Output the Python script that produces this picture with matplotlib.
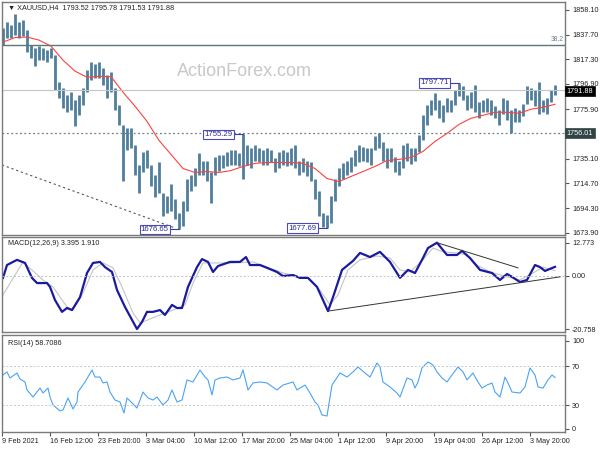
import numpy as np
import matplotlib
matplotlib.use("Agg")
from matplotlib import pyplot as plt

plt.rcParams['font.family'] = ['Liberation Sans', 'DejaVu Sans']

# H4 bars (high / low), one bar per index
bar_high = [1843.2, 1848.1, 1845.6, 1854.8, 1848.1, 1849.8, 1841.5, 1829.1, 1826.6, 1828.2,
            1826.6, 1824.9, 1826.6, 1820.8, 1798.4, 1793.4, 1787.6, 1790.1, 1783.4, 1787.6,
            1793.4, 1808.3, 1815.0, 1813.3, 1815.0, 1810.0, 1804.2, 1806.7, 1793.4, 1779.3,
            1762.7, 1760.2, 1760.2, 1746.1, 1729.5, 1740.3, 1741.9, 1729.5, 1721.2, 1732.0,
            1707.1, 1704.6, 1714.5, 1702.1, 1690.5, 1700.5, 1718.7, 1721.2, 1727.0, 1739.4,
            1733.6, 1733.6, 1723.7, 1736.1, 1737.8, 1737.8, 1740.3, 1741.9, 1741.9, 1739.4,
            1755.29, 1746.1, 1743.6, 1746.1, 1743.6, 1741.9, 1743.6, 1741.9, 1735.3, 1740.3,
            1741.9, 1740.3, 1743.6, 1746.1, 1733.6, 1735.3, 1733.6, 1732.0, 1718.7, 1708.7,
            1690.5, 1688.8, 1704.6, 1718.7, 1727.0, 1731.2, 1733.6, 1736.9, 1741.9, 1746.1,
            1744.4, 1743.6, 1743.6, 1754.0, 1756.5, 1748.6, 1743.6, 1743.6, 1736.9, 1733.6,
            1746.1, 1747.7, 1743.6, 1743.6, 1754.4, 1771.0, 1779.3, 1783.4, 1789.2, 1783.4,
            1779.3, 1785.1, 1783.4, 1791.7, 1797.71, 1795.1, 1787.6, 1790.1, 1795.9, 1781.8,
            1783.4, 1785.1, 1783.4, 1778.5, 1775.1, 1785.1, 1783.4, 1775.1, 1776.8, 1775.1,
            1780.1, 1795.1, 1793.4, 1791.7, 1798.4, 1783.4, 1785.1, 1791.7, 1795.9]
bar_low = [1829.1, 1834.9, 1834.9, 1837.4, 1834.9, 1836.5, 1823.2, 1818.3, 1811.6, 1816.6,
           1816.6, 1815.0, 1818.3, 1791.7, 1785.1, 1776.8, 1773.5, 1775.1, 1761.9, 1771.0,
           1779.3, 1790.1, 1800.0, 1801.7, 1801.7, 1795.9, 1785.1, 1790.1, 1775.1, 1762.7,
           1717.0, 1741.9, 1743.6, 1721.2, 1707.1, 1723.7, 1727.0, 1712.9, 1703.8, 1707.1,
           1688.0, 1690.5, 1692.2, 1685.5, 1676.65, 1679.7, 1692.2, 1708.7, 1712.9, 1721.2,
           1721.2, 1717.0, 1698.8, 1721.2, 1725.3, 1727.0, 1728.7, 1729.5, 1729.5, 1728.7,
           1718.7, 1729.5, 1727.0, 1733.6, 1732.0, 1729.5, 1729.5, 1732.0, 1723.7, 1727.0,
           1729.5, 1728.7, 1729.5, 1727.0, 1721.2, 1723.7, 1720.4, 1717.0, 1702.1, 1688.0,
           1678.9, 1677.69, 1682.2, 1700.5, 1712.9, 1718.7, 1721.2, 1723.7, 1728.7, 1732.0,
           1733.6, 1732.0, 1729.5, 1741.9, 1743.6, 1733.6, 1727.0, 1732.0, 1723.7, 1721.2,
           1727.0, 1733.6, 1730.4, 1733.6, 1740.3, 1750.2, 1762.7, 1771.0, 1775.1, 1768.5,
           1765.2, 1773.5, 1773.5, 1779.3, 1786.8, 1783.4, 1775.1, 1776.8, 1773.5, 1768.5,
           1773.5, 1773.5, 1771.0, 1768.5, 1762.7, 1771.8, 1766.8, 1756.0, 1765.2, 1765.2,
           1770.1, 1780.1, 1783.4, 1778.5, 1771.8, 1773.5, 1771.8, 1781.8, 1787.6]

# moving average, read every 3 bars
ma = [1831.5, 1835.3, 1835.7, 1833.2, 1828.2, 1816.6, 1807.5, 1802.5, 1803.3, 1802.9,
      1790.1, 1778.5, 1766.0, 1750.2, 1738.6, 1727.0, 1723.7, 1724.5, 1723.7, 1725.3,
      1728.7, 1731.2, 1732.0, 1732.0, 1732.0, 1731.2, 1727.0, 1718.7, 1716.2, 1720.4,
      1724.5, 1728.7, 1733.6, 1734.5, 1736.1, 1741.1, 1749.4, 1756.0, 1763.5, 1768.5,
      1771.0, 1773.5, 1773.5, 1772.6, 1776.0, 1777.6, 1780.1]

macd_t = [0, 1, 3.5, 5.5, 7.25, 8.5, 11, 11.75, 13, 14.75, 16, 17.25, 19.25, 21, 22.5, 24.25,
          25.5, 27.25, 28.5, 30.5, 32.25, 33.5, 34.75, 36, 37.5, 39.25, 40.5, 42.25, 43.5, 44.75,
          46.25, 48.5, 49.75, 51.25, 52.5, 53.75, 56.75, 59.25, 60.75, 61.75, 64.25, 66, 68.5, 70,
          72.5, 74.25, 76.25, 78.5, 80, 81.25, 82.5, 84.75, 87.5, 89.25, 91.75, 94.25, 96.75,
          99.25, 101.25, 103, 104.75, 106.25, 108.5, 111, 113.5, 114.75, 116.75, 119.25, 122.25,
          124.25, 126, 127.25, 129.25, 131, 133, 134.25, 135.5, 136.75, 138]
macd = [-0.9, 4.1, 6.1, 4.9, -0.9, -2.9, -2.9, -4.4, -9.5, -14.1, -12.6, -13.4, -8.4, 1.0, 4.9,
        5.3, 3.3, 1.4, -5.6, -12.2, -17.2, -20.758, -18.0, -14.1, -14.1, -13.4, -15.3, -11.4,
        -12.6, -12.6, -4.4, 3.3, 6.4, 5.3, 1.4, 3.7, 5.3, 5.3, 7.2, 4.1, 4.1, 3.0, 1.4, -0.2, 0.2,
        -0.9, -0.9, -4.4, -9.5, -13.8, -8.4, 2.2, 5.7, 8.8, 7.2, 9.2, 5.3, -0.9, 2.2, 1.0, 6.1,
        10.7, 12.773, 8.0, 8.0, 9.6, 6.8, 2.2, 1.0, -1.7, 0.6, -0.5, -2.5, -1.7, 4.1, 3.3, 1.8,
        2.6, 3.395]

sig_t = [0, 5, 10, 12.5, 16, 17.5, 20, 22.5, 25, 27.5, 29.75, 32.5, 34.25, 36.25, 39.25, 42.5,
         45.5, 47.5, 50, 52.5, 57.5, 62.5, 66, 70, 74.25, 76, 79.25, 81.75, 83.75, 86.25, 89.25,
         93.5, 96.75, 99.25, 101.75, 105, 107.5, 110, 113.5, 116, 118.5, 121.75, 126, 129.25,
         132.5, 135, 138]
signal = [-7.5, 5.3, -1.7, -4.4, -12.2, -13.4, -6.8, 2.2, 4.9, 3.0, -4.4, -14.5, -18.4, -17.2,
          -15.3, -13.4, -11.4, -2.9, 4.9, 4.9, 4.9, 5.3, 3.3, 1.0, -0.5, -0.5, -5.6, -11.4, -7.5,
          2.2, 6.1, 7.6, 6.8, 2.2, 1.4, 6.1, 10.7, 9.2, 8.8, 8.0, 4.1, 1.4, -0.5, -1.7, 1.0, 3.3,
          1.91]

rsi_t = [0, 1, 1.75, 3.5, 4.25, 5.5, 6, 7.5, 9.25, 10, 11.25, 11.75, 12.5, 14.25, 15, 16.25,
         17.5, 18.5, 18.75, 20.5, 22.25, 23, 24.25, 25, 26, 26.75, 28, 29.25, 30.25, 31, 32.25,
         33.5, 35, 36.25, 37.5, 38.5, 40, 41.25, 42.25, 43.5, 44.75, 46, 47.5, 49.25, 50.5,
         51.25, 52.25, 53, 54.25, 56, 57.5, 59.25, 60, 61.25, 62.5, 64.25, 66, 68.5, 70, 72.5,
         73.5, 74.25, 75.5, 76.75, 78, 78.75, 79.75, 81, 82.25, 84.25, 86, 87.5, 88.75, 90.5,
         91.75, 93.5, 94.25, 95, 96.75, 98.5, 99.25, 101, 102.25, 103, 103.75, 104.75, 106.25,
         107.5, 108.5, 109.75, 111, 112.25, 113.75, 115, 116, 117.5, 118.75, 119.75, 121,
         122.25, 123, 124.25, 125.5, 126.25, 127.25, 129.25, 130.5, 131.75, 133, 133.75, 135,
         136.25, 137.25, 138]
rsi = [61.3, 64.4, 58.2, 63.3, 57.2, 54.1, 45.9, 38.7, 47.9, 42.8, 47.9, 38.7, 30.5, 24.4, 25.4,
       37.7, 26.4, 33.6, 43.8, 54.1, 66.4, 59.2, 59.2, 53.1, 54.1, 43.8, 35.6, 33.6, 22.3, 37.7,
       32.6, 27.4, 43.8, 37.7, 35.6, 38.7, 30.5, 35.6, 45.9, 33.6, 35.6, 56.2, 54.1, 66.4, 59.2,
       56.2, 40.8, 56.2, 58.2, 59.2, 56.2, 58.2, 66.4, 45.9, 53.1, 54.1, 53.1, 45.9, 51.0, 54.1,
       45.9, 47.9, 51.0, 42.8, 33.6, 30.5, 20.3, 19.2, 51.0, 63.3, 59.2, 64.4, 69.5, 63.3, 59.2,
       73.6, 69.5, 54.1, 49.0, 42.8, 38.7, 58.2, 56.2, 47.9, 54.1, 68.5, 74.6, 71.5, 64.4, 58.2,
       54.1, 61.3, 69.5, 64.4, 56.2, 63.3, 54.1, 47.9, 51.0, 53.1, 43.8, 38.7, 59.2, 53.1, 43.8,
       42.8, 49.0, 68.5, 61.3, 49.0, 47.9, 56.2, 61.3, 58.7]

price_ticks = [1858.10, 1837.70, 1817.30, 1796.90, 1775.90, 1735.10, 1714.70, 1694.30, 1673.90]
date_ticks = [-0.25 + 12 * k for k in range(12)]
date_labels = ['9 Feb 2021', '16 Feb 12:00', '23 Feb 20:00', '3 Mar 04:00', '10 Mar 12:00',
               '17 Mar 20:00', '25 Mar 04:00', '1 Apr 12:00', '9 Apr 20:00', '19 Apr 04:00',
               '26 Apr 12:00', '3 May 20:00']
fib_382 = 1829.2
last_close = 1791.88
support = 1756.01
swing_labels = [(44, 1676.65), (60, 1755.29), (81, 1677.69), (114, 1797.71)]

FS = 5.2
EDGE = '#7a7a7a'

fig = plt.figure(figsize=(6, 4.5), dpi=100)
ax = fig.add_axes([2 / 600, 215.5 / 450, 563 / 600, 232.5 / 450])
ax2 = fig.add_axes([2 / 600, 118.3 / 450, 563 / 600, 95 / 450])
ax3 = fig.add_axes([2 / 600, 18 / 450, 563 / 600, 97 / 450])

for a in (ax, ax2, ax3):
    a.set_xlim(-0.25, 140.5)
    a.yaxis.tick_right()
    a.tick_params(axis='y', labelsize=FS, length=3, pad=2, color='#555555', labelcolor='#222222')
    a.tick_params(axis='x', labelbottom=False, length=0)
    for s in a.spines.values():
        s.set_color(EDGE)
        s.set_linewidth(1.0)

# ---- price panel
t = np.arange(len(bar_high))
ax.vlines(t, bar_low, bar_high, color='#4f7f9b', lw=2.0)
ax.plot(np.arange(0, len(bar_high), 3), ma, color='#ff4040', lw=0.8)
ax.axhline(fib_382, color='#5b7777', lw=1.0)
ax.axhline(last_close, color='#c4c4c4', lw=0.8)
ax.axhline(support, color='#6f8080', lw=0.9, ls=(0, (1.5, 2)))
ax.plot([-0.25, 43], [1729.9, 1677.8], color='#555555', lw=0.8, ls=(0, (2, 2.5)))
ax.set_ylim(1672.4, 1864.7)
ax.set_yticks(price_ticks)
ax.set_yticklabels(['%.2f' % v for v in price_ticks])

ax.text(0.43, 0.70, 'ActionForex.com', transform=ax.transAxes, fontsize=13,
        color='#c8c8c8', ha='center', va='center')
ax.text(0.01, 0.975, '\u25bc XAUUSD,H4  1793.52 1795.78 1791.53 1791.88', transform=ax.transAxes,
        fontsize=FS, color='#222222', va='center')
ax.text(0.998, fib_382 + 1.2, '38.2', fontsize=FS - 0.3, color='#6a8090', ha='right', va='bottom',
        transform=ax.get_yaxis_transform())

for bar, price in swing_labels:
    ax.plot([bar - 2.2, bar], [price, price], color='#3a3aa8', lw=0.8)
    ax.text(bar - 2.6, price, '%.2f' % price, fontsize=5.6, color='#2a2a90', ha='right', va='center',
            bbox=dict(boxstyle='square,pad=0.15', fc='white', ec='#4a4ab8', lw=0.8))

# current price / support tags on the price scale
ax.text(1.003, last_close - 1.0, '%.2f' % last_close, transform=ax.get_yaxis_transform(),
        fontsize=FS, color='white', ha='left', va='center', clip_on=False, zorder=5,
        bbox=dict(boxstyle='square,pad=0.2', fc='black', ec='black', lw=0.5))
ax.text(1.003, support, '%.2f' % support, transform=ax.get_yaxis_transform(),
        fontsize=FS, color='white', ha='left', va='center', clip_on=False, zorder=5,
        bbox=dict(boxstyle='square,pad=0.2', fc='#2f4545', ec='#2f4545', lw=0.5))

# ---- MACD panel
ax2.plot(sig_t, signal, color='#c4c4c4', lw=0.8)
ax2.plot(macd_t, macd, color='#1a1aa0', lw=1.6)
ax2.axhline(0, color='#c0c0c0', lw=0.7, ls=(0, (2, 2)))
ax2.plot([81.25, 139.25], [-13.8, -0.5], color='#333333', lw=0.7)
ax2.plot([108.5, 128.75], [12.773, 3.0], color='#333333', lw=0.7)
ax2.set_ylim(-21.8, 15.1)
ax2.set_yticks([12.773, 0, -20.758])
ax2.set_yticklabels(['12.773', '0.00', '-20.758'])
ax2.text(0.01, 0.93, 'MACD(12,26,9) 3.395 1.910', transform=ax2.transAxes, fontsize=FS,
         color='#222222', va='center')

# ---- RSI panel
ax3.plot(rsi_t, rsi, color='#4aa3f5', lw=0.8)
for lvl in (70, 30):
    ax3.axhline(lvl, color='#c8c8c8', lw=0.7, ls=(0, (2, 2)))
ax3.set_ylim(2.8, 102.3)
ax3.set_yticks([96.2, 70, 30, 5.9])
ax3.set_yticklabels(['100', '70', '30', '0'])
ax3.text(0.01, 0.915, 'RSI(14) 58.7086', transform=ax3.transAxes, fontsize=FS,
         color='#222222', va='center')
ax3.set_xticks(date_ticks)
ax3.set_xticklabels(date_labels, ha='left')
ax3.tick_params(axis='x', labelbottom=True, length=3, pad=1.5, labelsize=FS,
                color='#555555', labelcolor='#222222')

fig.savefig('out.png', dpi=100)
